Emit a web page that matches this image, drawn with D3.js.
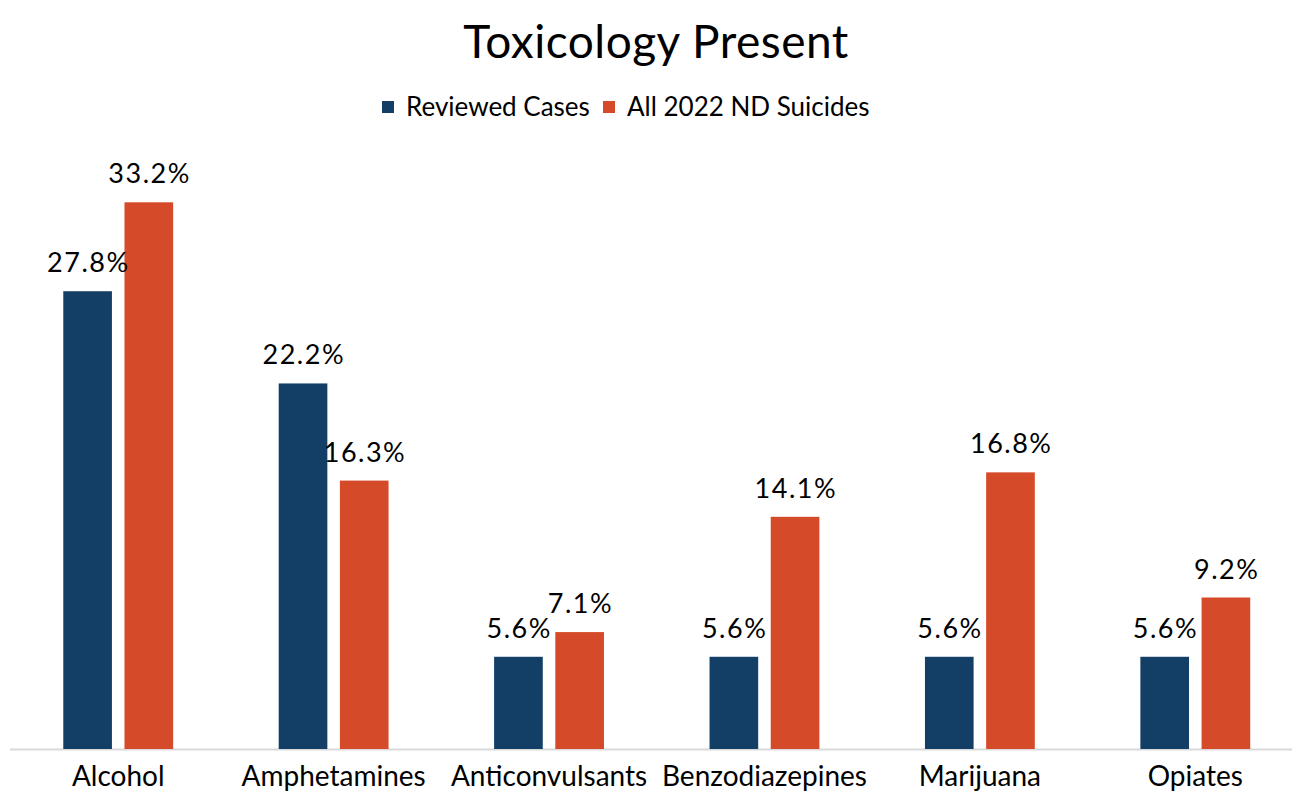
<!DOCTYPE html>
<html>
<head>
<meta charset="utf-8">
<script src="https://cdn.jsdelivr.net/npm/d3@7"></script>
<style>
  body { margin: 0; background: #fff; }
  #chart { width: 1292px; height: 793px; }
  text { font-family: Lato, "Noto Sans", sans-serif; fill: #000; }
</style>
</head>
<body>
<div id="chart"></div>
<script>
const categories = ["Alcohol", "Amphetamines", "Anticonvulsants", "Benzodiazepines", "Marijuana", "Opiates"];
const seriesNames = ["Reviewed Cases", "All 2022 ND Suicides"];
const reviewedCases = [27.8, 22.2, 5.6, 5.6, 5.6, 5.6];
const ndSuicides = [33.2, 16.3, 7.1, 14.1, 16.8, 9.2];
const colors = ["#133f67", "#d54a28"];

const width = 1292, height = 793;
const baseY = 749;

const data = categories.map((c, i) => ({
  category: c,
  values: [
    { series: seriesNames[0], value: reviewedCases[i] },
    { series: seriesNames[1], value: ndSuicides[i] }
  ]
}));

const svg = d3.select("#chart")
  .append("svg")
  .attr("width", width)
  .attr("height", height);

const x0 = d3.scaleBand()
  .domain(categories)
  .range([10.5, 1303])
  .paddingInner(0.49)
  .paddingOuter(0.245);

const x1 = d3.scaleBand()
  .domain(seriesNames)
  .range([0, x0.bandwidth()])
  .paddingInner(0.205);

const y = d3.scaleLinear()
  .domain([0, 33.2])
  .range([baseY, 202.3]);

// title
svg.append("text")
  .attr("x", 656)
  .attr("y", 58)
  .attr("text-anchor", "middle")
  .style("font-size", "46px")
  .style("letter-spacing", "0.5px")
  .text("Toxicology Present");

// legend
const legend = svg.append("g").attr("class", "legend");
const legendItems = [
  { name: seriesNames[0], x: 382, color: colors[0] },
  { name: seriesNames[1], x: 603, color: colors[1] }
];
legendItems.forEach(item => {
  legend.append("rect")
    .attr("x", item.x)
    .attr("y", 101)
    .attr("width", 12)
    .attr("height", 12)
    .attr("fill", item.color);
  legend.append("text")
    .attr("x", item.x + 24)
    .attr("y", 116)
    .style("font-size", "26px")
    .text(item.name);
});

// baseline
svg.append("line")
  .attr("x1", 10)
  .attr("x2", width)
  .attr("y1", baseY + 0.5)
  .attr("y2", baseY + 0.5)
  .attr("stroke", "#d9d9d9")
  .attr("stroke-width", 2);

const groups = svg.selectAll(".group")
  .data(data)
  .enter()
  .append("g")
  .attr("class", "group")
  .attr("transform", d => `translate(${x0(d.category)},0)`);

groups.selectAll("rect")
  .data(d => d.values)
  .enter()
  .append("rect")
  .attr("x", d => x1(d.series))
  .attr("y", d => y(d.value))
  .attr("width", x1.bandwidth())
  .attr("height", d => baseY - y(d.value))
  .attr("fill", (d, i) => colors[i]);

groups.selectAll(".val")
  .data(d => d.values)
  .enter()
  .append("text")
  .attr("class", "val")
  .attr("x", d => x1(d.series) + x1.bandwidth() / 2 + 0.75)
  .attr("y", d => y(d.value) - 19)
  .attr("text-anchor", "middle")
  .style("font-size", "27px")
  .style("letter-spacing", "1.5px")
  .text(d => d.value.toFixed(1) + "%");

// category axis labels
const xAxis = svg.append("g")
  .attr("transform", `translate(0, ${baseY})`)
  .call(d3.axisBottom(x0).tickSize(0).tickPadding(17));
xAxis.select(".domain").remove();
xAxis.selectAll("text")
  .style("font-size", "28px")
  .style("font-family", "Lato, 'Noto Sans', sans-serif")
  .attr("fill", "#000");
</script>
</body>
</html>
